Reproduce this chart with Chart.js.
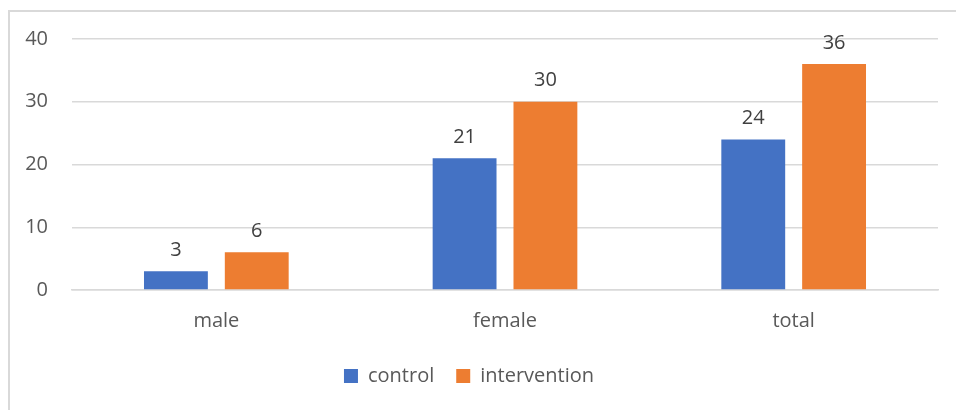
<!DOCTYPE html>
<html>
<head>
<meta charset="utf-8">
<script src="https://cdn.jsdelivr.net/npm/chart.js@4/dist/chart.umd.min.js"></script>
<style>
  body { margin: 0; background: #fff; overflow: hidden; }
  #frame { position: absolute; left: 8px; top: 10px; width: 960px; height: 420px; border: 2px solid #d9d9d9; box-sizing: border-box; }
  #wrap { position: absolute; left: 0; top: 0; width: 956px; height: 410px; }
</style>
</head>
<body>
<div id="frame"></div>
<div id="wrap"><canvas id="mychart"></canvas></div>
<script>
const categories = ['male', 'female', 'total'];
const controlValues = [3, 21, 24];
const interventionValues = [6, 30, 36];
const yTicks = [0, 10, 20, 30, 40];

// labels above each bar
const barLabels = {
  id: 'barLabels',
  afterDatasetsDraw(chart) {
    const ctx = chart.ctx;
    ctx.save();
    ctx.font = '20px "Open Sans"';
    ctx.fillStyle = '#404040';
    ctx.textAlign = 'center';
    ctx.textBaseline = 'bottom';
    chart.data.datasets.forEach(function (ds, i) {
      chart.getDatasetMeta(i).data.forEach(function (bar, j) {
        ctx.fillText(ds.data[j], bar.x, bar.y - 11);
      });
    });
    ctx.restore();
  }
};

const ctx = document.getElementById('mychart').getContext('2d');
const config =
{
  type: 'bar',
  data: {
    labels: categories,
    datasets: [
      { label: 'control', data: controlValues, backgroundColor: '#4472C4' },
      { label: 'intervention', data: interventionValues, backgroundColor: '#ED7D31' }
    ]
  },
  options: {
    responsive: true,
    maintainAspectRatio: false,
    animation: false,
    datasets: { bar: { categoryPercentage: 0.56, barPercentage: 0.79 } },
    layout: { padding: { top: 39, right: 18, bottom: 14, left: 0 } },
    plugins: {
      legend: {
        position: 'bottom',
        labels: {
          color: '#595959',
          font: { family: 'Open Sans', size: 20 },
          boxWidth: 14,
          boxHeight: 14,
          padding: 22
        }
      },
      tooltip: { enabled: false }
    },
    scales: {
      x: {
        grid: { display: false },
        border: { color: '#d9d9d9', width: 1.5 },
        ticks: { color: '#595959', font: { family: 'Open Sans', size: 20 }, padding: 11 }
      },
      y: {
        min: 0,
        max: 40,
        afterFit(scale) { scale.width = 72; },
        afterBuildTicks(scale) { scale.ticks = yTicks.map(v => ({ value: v })); },
        grid: { color: '#d9d9d9', lineWidth: 1.5, drawTicks: false },
        border: { display: false },
        ticks: { color: '#595959', font: { family: 'Open Sans', size: 20 }, padding: 24 }
      }
    }
  },
  plugins: [barLabels]
};
const chart = new Chart(ctx, config);
</script>
</body>
</html>
